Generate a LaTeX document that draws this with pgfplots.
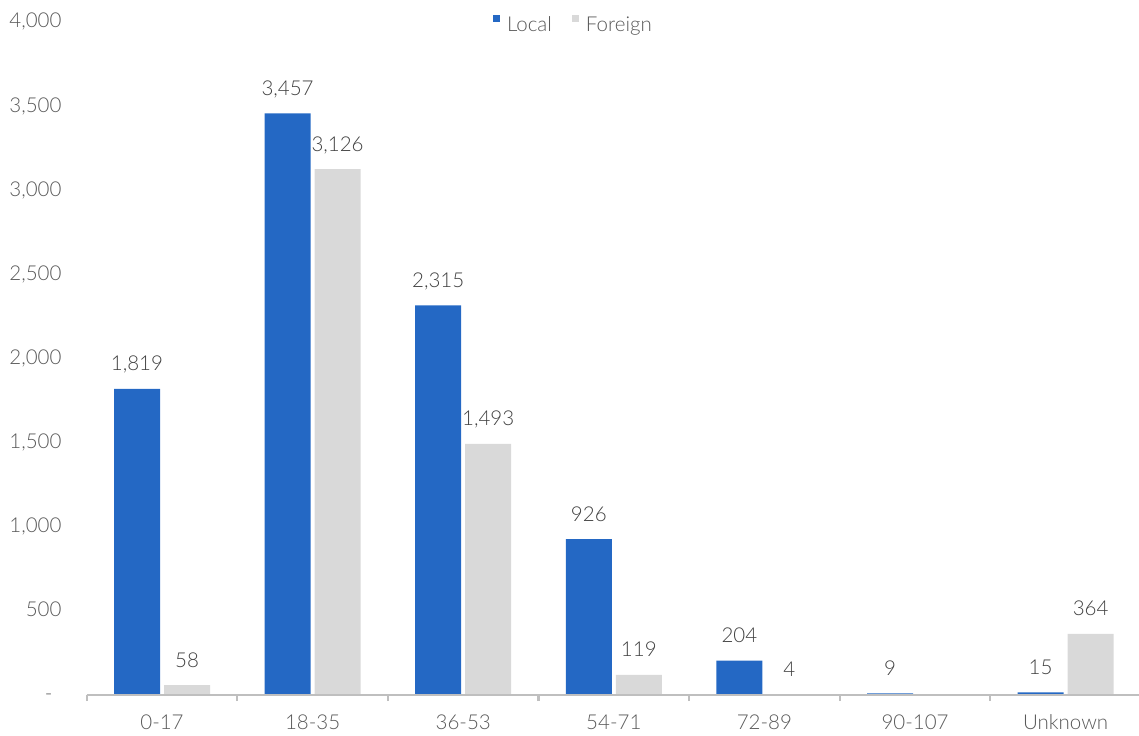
\documentclass[border=0pt]{standalone}
\usepackage{fontspec}
\setmainfont{Lato Light}
\usepackage{pgfplots}
\pgfplotsset{compat=1.18}
\definecolor{cLocal}{HTML}{2468C4}
\definecolor{cForeign}{HTML}{D9D9D9}
\definecolor{cAxis}{HTML}{BFBFBF}
\definecolor{cTick}{HTML}{595959}
\definecolor{cLab}{HTML}{404040}
\newcommand\f{\fontsize{20.5bp}{24bp}\selectfont}
\begin{document}
\begin{tikzpicture}[font=\f]
\useasboundingbox (0,0) rectangle (1139bp,736bp);
\begin{axis}[
  at={(86.7bp,41bp)}, anchor=south west,
  scale only axis, width=1054.3bp, height=673bp,
  xmin=-0.5, xmax=6.5, ymin=0, ymax=4000,
  axis on top,
  axis x line*=bottom, axis y line*=left,
  x axis line style={draw=cAxis, line width=2.6bp},
  y axis line style={draw=none},
  xtick={0,...,6},
  xticklabels={0-17,18-35,36-53,54-71,72-89,90-107,Unknown},
  minor xtick={-0.5,0.5,...,6.5},
  xtick align=outside,
  major tick length=0pt, minor tick length=6bp,
  minor x tick style={draw=cAxis, line width=2.2bp},
  major x tick style={draw=none},
  ytick={0,500,...,4000},
  yticklabels={{-\kern9bp},500,{1,000},{1,500},{2,000},{2,500},{3,000},{3,500},{4,000}},
  ytick style={draw=none},
  tick label style={font=\f, text=cTick, inner sep=0pt},
  xticklabel style={anchor=base, yshift=-35bp},
  yticklabel style={anchor=base east, xshift=-25bp, yshift=-6bp},
  /pgf/number format/.cd, 1000 sep={,}, assume math mode=true, /pgfplots/.cd,
  nodes near coords,
  every node near coord/.append style={font=\f, text=cLab, anchor=base, yshift=18bp, inner sep=0pt},
  legend columns=2,
  legend style={at={(0.4607,0.997)}, anchor=center, draw=none, fill=none,
    font=\f, text=cTick,
    nodes={inner sep=0pt},
    /tikz/every odd column/.append style={column sep=7bp},
    /tikz/every even column/.append style={column sep=20bp}},
  clip=false,
]
\addplot[ybar, bar width=46bp, bar shift=-25bp, fill=cLocal, draw=none,
  every node near coord/.append style={xshift=-25bp},
  legend image code/.code={\fill[cLocal] (0bp,3.2bp) rectangle (7bp,10.2bp);}]
  coordinates {(0,1819) (1,3457) (2,2315) (3,926) (4,204) (5,9) (6,15)};
\addlegendentry{Local}
\addplot[ybar, bar width=46bp, bar shift=25bp, fill=cForeign, draw=none,
  every node near coord/.append style={xshift=25bp},
  legend image code/.code={\fill[cForeign] (0bp,3.2bp) rectangle (7bp,10.2bp);}]
  coordinates {(0,58) (1,3126) (2,1493) (3,119) (4,4) (6,364)};
\addlegendentry{Foreign}
\end{axis}
\end{tikzpicture}
\end{document}
